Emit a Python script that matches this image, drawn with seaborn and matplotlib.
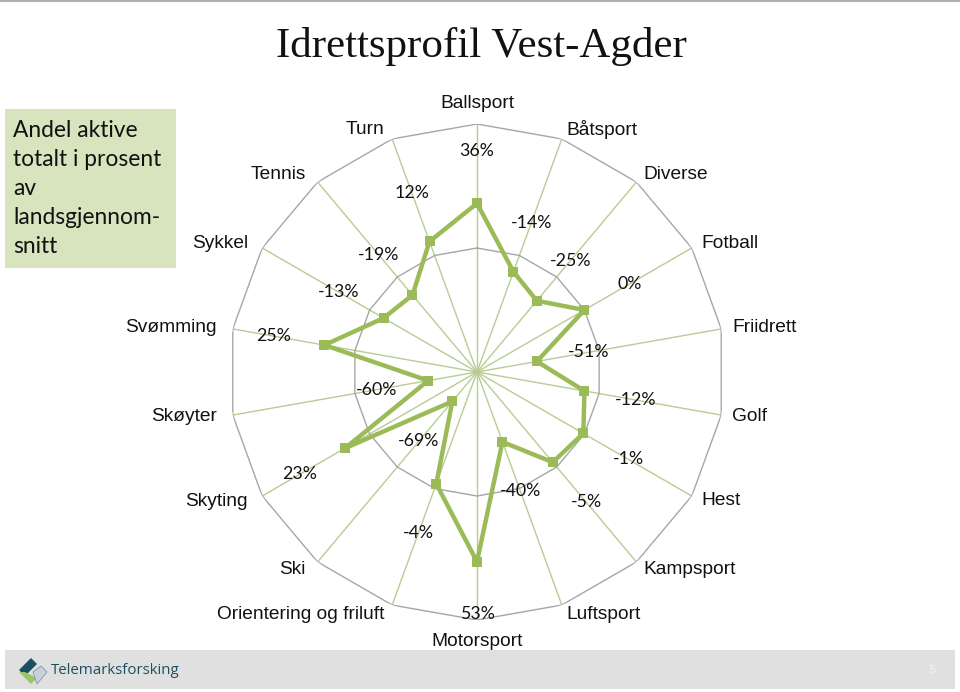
import numpy as np
import pandas as pd
import matplotlib
matplotlib.use("Agg")
import matplotlib.pyplot as plt
import seaborn as sns
from matplotlib.patches import Rectangle, Polygon

categories = ["Ballsport", "Båtsport", "Diverse", "Fotball", "Friidrett", "Golf",
              "Hest", "Kampsport", "Luftsport", "Motorsport", "Orientering og friluft",
              "Ski", "Skyting", "Skøyter", "Svømming", "Sykkel", "Tennis", "Turn"]
values = [36, -14, -25, 0, -51, -12, -1, -5, -40, 53, -4, -69, 23, -60, 25, -13, -19, 12]
r_min, r_max = -100, 100
rings = [0, 100]

title = "Idrettsprofil Vest-Agder"
box_text = "Andel aktive\ntotalt i prosent\nav\nlandsgjennom-\nsnitt"

sns.set_style("white")
plt.rcParams["font.family"] = ["Liberation Sans", "DejaVu Sans"]

green = "#9bbb59"
spoke_col = "#b8cd93"
ring_col = "#a6a6a6"

W, H = 960, 692
fig = plt.figure(figsize=(W / 100, H / 100), dpi=100)

cx, cy, R = 477, 372, 248
ax = fig.add_axes([(cx - R) / W, (H - cy - R) / H, 2 * R / W, 2 * R / H], projection="polar")
ax.set_theta_zero_location("N")
ax.set_theta_direction(-1)
ax.set_ylim(r_min, r_max)
ax.grid(False)
ax.spines["polar"].set_visible(False)
ax.set_xticks([])
ax.set_yticks([])
ax.patch.set_alpha(0)

n = len(categories)
theta = np.arange(n) * 2 * np.pi / n

# spokes and rings
for t in theta:
    ax.plot([t, t], [r_min, r_max], color=spoke_col, lw=1.0, zorder=1)
ring_t = np.append(theta, theta[0])
for rv in rings:
    ax.plot(ring_t, [rv] * (n + 1), color=ring_col, lw=1.0, zorder=1)

df = pd.DataFrame({"theta": np.append(theta, 2 * np.pi), "value": values + [values[0]]})
sns.lineplot(data=df, x="theta", y="value", ax=ax, sort=False, estimator=None,
             color=green, lw=3.2, marker="s", markersize=7.5, markeredgewidth=0,
             markerfacecolor=green, zorder=3)
ax.set_xlabel("")
ax.set_ylabel("")

# data labels
for t, v in zip(theta, values):
    ax.text(t, v + 42, f"{v}%", ha="center", va="center", fontsize=12.8,
            family=["Lato", "DejaVu Sans"], color="#111111", zorder=4)

# category labels
for t, c in zip(theta, categories):
    s, co = np.sin(t), np.cos(t)
    if abs(s) < 1e-6:
        ha, dx, dy = "center", 0, 21 * np.sign(co)
    elif s > 0:
        ha, dx, dy = "left", 1 + 10 * s, 10 * co
    else:
        ha, dx, dy = "right", -(4 + 12 * abs(s)), 10 * co
    ax.annotate(c, xy=(t, r_max), xytext=(dx, dy), textcoords="offset pixels",
                ha=ha, va="center", fontsize=13.8, color="#111111")

ax.set_xlim(0, 2 * np.pi)

# title
fig.text(481 / W, 1 - 46 / H, title, ha="center", va="center", fontsize=31,
         family=["Liberation Serif", "DejaVu Serif"], color="#111111")

# side box
fig.patches.append(Rectangle((5 / W, 1 - 268 / H), 171 / W, 159 / H,
                             transform=fig.transFigure, facecolor="#d7e4bd",
                             edgecolor="none", zorder=0))
fig.text(13 / W, 1 - 120 / H, box_text, ha="left", va="top", fontsize=16.4,
         family=["Lato", "DejaVu Sans"], linespacing=1.47, color="#111111")

# top border line
fig.lines.append(plt.Line2D([0, 1], [1 - 1 / H, 1 - 1 / H], transform=fig.transFigure,
                            color="#b0b0b0", lw=1.5))

# bottom band
fig.patches.append(Rectangle((5 / W, 1 - 689 / H), 950 / W, 39 / H,
                             transform=fig.transFigure, facecolor="#e0e0e0",
                             edgecolor="none", zorder=0))
# logo icon
def px(x, y):
    return (x / W, 1 - y / H)
fig.patches.append(Polygon([px(19, 670), px(31, 658), px(37, 664), px(25, 676)],
                           closed=True, transform=fig.transFigure,
                           facecolor="#1d4f63", edgecolor="none"))
fig.patches.append(Polygon([px(19, 672), px(31, 684), px(37, 678), px(25, 672)],
                           closed=True, transform=fig.transFigure,
                           facecolor="#9cc46a", edgecolor="none"))
fig.patches.append(Polygon([px(33, 672), px(41, 666), px(47, 672), px(37, 684)],
                           closed=True, transform=fig.transFigure,
                           facecolor="#c8d2dc", edgecolor="#7e97ad", lw=0.6))
fig.text(51 / W, 1 - 670 / H, "Telemarksforsking", ha="left", va="center",
         fontsize=10.8, family=["Open Sans", "DejaVu Sans"], color="#1d4f63")
fig.text(933 / W, 1 - 670 / H, "5", ha="center", va="center", fontsize=8, color="#f4f4f4")

fig.savefig("out.png", dpi=100)
